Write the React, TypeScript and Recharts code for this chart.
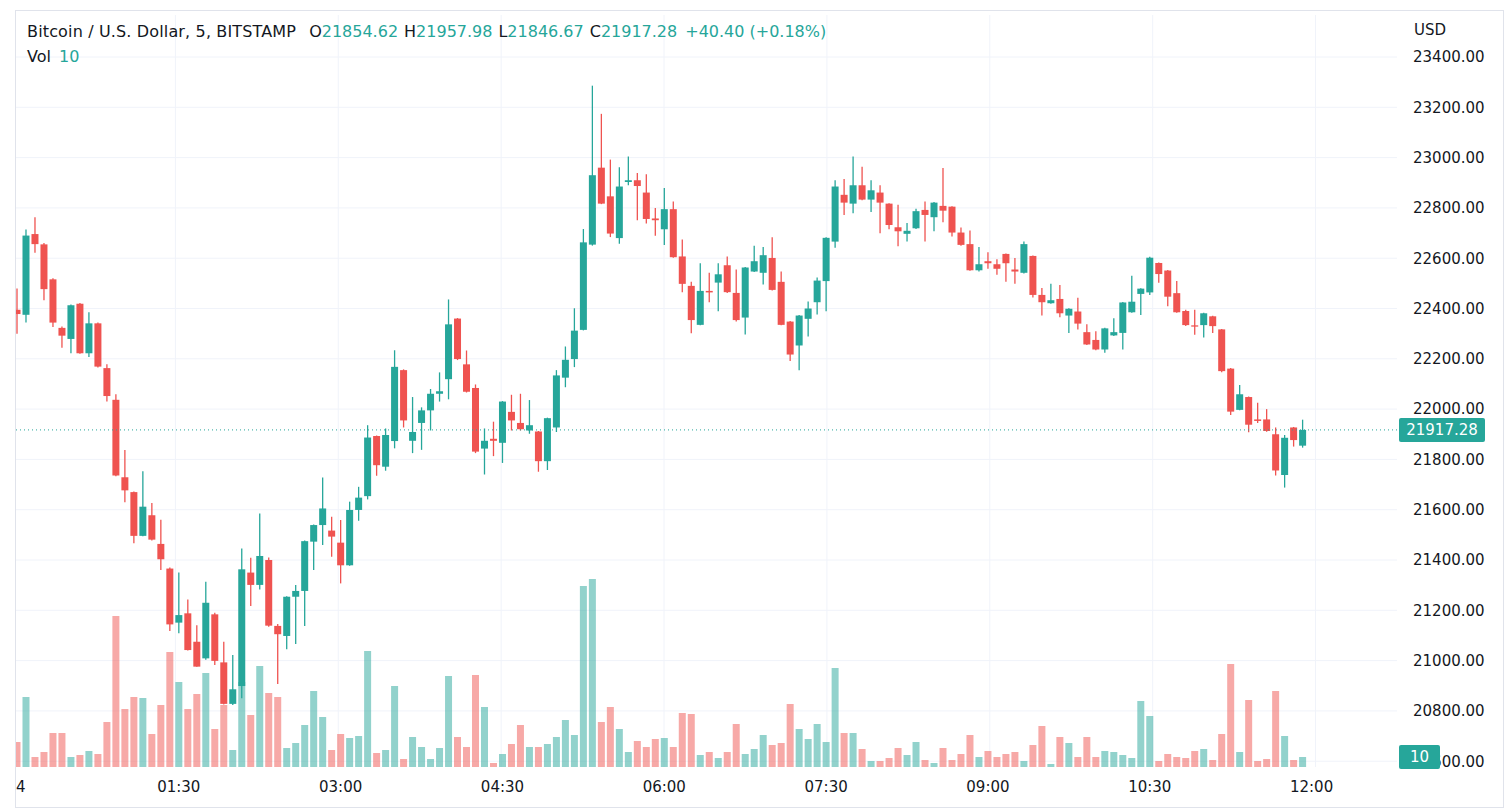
import React from "react";
import { Bar, Cell, ComposedChart, ReferenceLine, XAxis, YAxis } from "recharts";

// BTC/USD, 5 minute candles, 00:00 - 11:55
const OPEN = [
  22395, 22375, 22696, 22655, 22516, 22323, 22279, 22419, 22222, 22341,
  22163, 22037, 21729, 21670, 21496, 21578, 21464, 21366, 21151, 21188,
  21075, 21009, 21184, 20993, 20828, 20899, 21350, 21301, 21400, 21138,
  21098, 21254, 21277, 21473, 21539, 21517, 21469, 21379, 21599, 21654,
  21893, 21771, 21873, 22155, 21874, 21945, 21995, 22061, 22119, 22360,
  22178, 22084, 21843, 21882, 21866, 21989, 21945, 21915, 21911, 21793,
  21927, 22125, 22199, 22315, 22654, 22960, 22846, 22680, 22903, 22910,
  22861, 22758, 22715, 22795, 22607, 22490, 22335, 22470, 22503, 22572,
  22462, 22364, 22547, 22542, 22601, 22506, 22348, 22253, 22359, 22425,
  22509, 22666, 22852, 22817, 22890, 22833, 22861, 22817, 22723, 22697,
  22719, 22792, 22763, 22808, 22805, 22702, 22656, 22552, 22588, 22576,
  22617, 22555, 22542, 22609, 22454, 22421, 22438, 22372, 22388, 22306,
  22275, 22237, 22293, 22303, 22385, 22458, 22464, 22581, 22551, 22461,
  22390, 22333, 22334, 22369, 22317, 22161, 21997, 22048, 21959, 21959,
  21900, 21738, 21927, 21854.62,
];
const HIGH = [
  22480, 22714, 22763, 22660, 22520, 22328, 22416, 22422, 22385, 22344,
  22178, 22059, 21837, 21672, 21753, 21627, 21560, 21370, 21350, 21243,
  21141, 21314, 21190, 21075, 21022, 21446, 21409, 21585, 21410, 21146,
  21256, 21301, 21478, 21541, 21728, 21572, 21559, 21632, 21691, 21936,
  21895, 21923, 22234, 22158, 22048, 22007, 22080, 22146, 22436, 22362,
  22233, 22098, 21923, 21950, 22032, 22057, 22061, 22036, 21913, 21966,
  22155, 22249, 22401, 22716, 23286, 23174, 22992, 22962, 23004, 22939,
  22934, 22800, 22879, 22825, 22674, 22506, 22580, 22542, 22580, 22607,
  22555, 22565, 22650, 22645, 22683, 22547, 22350, 22374, 22428, 22523,
  22683, 22910, 22915, 23004, 22964, 22910, 22890, 22819, 22813, 22740,
  22797, 22825, 22823, 22959, 22807, 22722, 22710, 22645, 22624, 22596,
  22619, 22601, 22666, 22611, 22482, 22498, 22493, 22401, 22443, 22337,
  22310, 22323, 22361, 22426, 22530, 22481, 22606, 22583, 22553, 22509,
  22395, 22395, 22383, 22371, 22319, 22163, 22096, 22050, 22025, 22000,
  21927, 21897, 21929, 21957.98,
];
const LOW = [
  22300, 22344, 22622, 22433, 22326, 22244, 22222, 22220, 22207, 22165,
  22030, 21733, 21630, 21467, 21494, 21478, 21360, 21118, 21109, 21040,
  20976, 21003, 20983, 20826, 20824, 20850, 21217, 21283, 21135, 20907,
  21045, 21066, 21138, 21360, 21460, 21413, 21307, 21377, 21556, 21641,
  21735, 21755, 21844, 21927, 21825, 21838, 21915, 22030, 22039, 22195,
  22066, 21825, 21740, 21813, 21786, 21915, 21915, 21902, 21751, 21758,
  21909, 22087, 22167, 22313, 22650, 22815, 22684, 22657, 22890, 22751,
  22738, 22689, 22653, 22602, 22465, 22302, 22333, 22425, 22389, 22462,
  22348, 22297, 22545, 22495, 22472, 22333, 22191, 22155, 22289, 22376,
  22389, 22642, 22772, 22779, 22830, 22784, 22699, 22715, 22648, 22666,
  22716, 22666, 22707, 22743, 22686, 22650, 22550, 22547, 22558, 22534,
  22506, 22498, 22539, 22444, 22372, 22419, 22365, 22303, 22317, 22255,
  22234, 22224, 22291, 22237, 22383, 22374, 22454, 22502, 22409, 22383,
  22330, 22296, 22285, 22303, 22147, 21977, 21995, 21908, 21945, 21910,
  21736, 21688, 21851, 21846.67,
];
const CLOSE = [
  22378, 22690, 22656, 22477, 22344, 22292, 22413, 22222, 22341, 22169,
  22052, 21736, 21677, 21496, 21612, 21481, 21403, 21144, 21181, 21042,
  20976, 21230, 20999, 20828, 20886, 21363, 21301, 21416, 21139, 21105,
  21254, 21277, 21475, 21539, 21605, 21493, 21379, 21599, 21648, 21887,
  21777, 21897, 22168, 21955, 21909, 21995, 22061, 22071, 22337, 22199,
  22069, 21831, 21874, 21874, 22030, 21955, 21920, 21936, 21793, 21964,
  22134, 22196, 22312, 22663, 22930, 22817, 22698, 22885, 22910, 22887,
  22756, 22751, 22795, 22604, 22498, 22354, 22470, 22464, 22536, 22465,
  22354, 22563, 22588, 22612, 22474, 22335, 22217, 22372, 22400, 22511,
  22681, 22885, 22821, 22890, 22833, 22870, 22821, 22732, 22707, 22709,
  22787, 22772, 22821, 22789, 22702, 22653, 22552, 22576, 22580, 22558,
  22580, 22547, 22656, 22454, 22425, 22433, 22381, 22399, 22340, 22257,
  22237, 22321, 22306, 22424, 22427, 22479, 22602, 22537, 22447, 22385,
  22334, 22328, 22381, 22330, 22151, 21990, 22059, 21938, 21953, 21913,
  21756, 21886, 21876.88, 21917.28,
];
const VOLUME = [
  25, 70, 10, 15, 34, 34, 10, 12, 16, 13,
  45, 151, 58, 70, 69, 33, 62, 115, 85, 58,
  73, 94, 38, 62, 17, 85, 52, 101, 74, 70,
  19, 24, 42, 76, 50, 17, 33, 29, 31, 116,
  14, 17, 81, 8, 30, 20, 8, 19, 91, 30,
  20, 92, 60, 4, 13, 23, 42, 20, 20, 23,
  30, 47, 32, 181, 188, 45, 60, 38, 15, 26,
  20, 28, 29, 20, 54, 53, 12, 15, 9, 15,
  43, 13, 18, 32, 22, 24, 63, 38, 28, 43,
  25, 99, 34, 34, 18, 6, 6, 9, 19, 12,
  25, 7, 4, 19, 7, 13, 32, 10, 16, 10,
  13, 15, 6, 22, 41, 3, 30, 24, 10, 30,
  10, 16, 15, 12, 9, 66, 51, 6, 13, 10,
  9, 16, 18, 7, 33, 103, 15, 67, 6, 8,
  76, 31, 7, 10,
];

const TIME_TICKS = ["00:00", "01:30", "03:00", "04:30", "06:00", "07:30", "09:00", "10:30", "12:00"];
const TICK_LABELS = ["4", "01:30", "03:00", "04:30", "06:00", "07:30", "09:00", "10:30", "12:00"];
const PRICE_TICKS = [20600, 20800, 21000, 21200, 21400, 21600, 21800, 22000, 22200, 22400, 22600, 22800, 23000, 23200, 23400];
const EMPTY_SLOTS = 10; // room on the right of the last candle

const SYMBOL = "Bitcoin / U.S. Dollar, 5, BITSTAMP";
const W = 1506;
const H = 808;
const GREEN = "#26a69a";
const RED = "#ef5350";
const VOL_GREEN = "rgba(38,166,154,0.5)";
const VOL_RED = "rgba(239,83,80,0.5)";
const GRID = "#f0f3fa";
const TEXT = "#131722";
const FONT = "'DejaVu Sans', Roboto, sans-serif";
const PRICE_DOMAIN: [number, number] = [20577, 23567];
const VOL_DOMAIN: [number, number] = [0, 752];
const MARGIN_TAGS = { top: 15, right: 109, bottom: 41, left: 12.5 };

const pad = (n: number) => String(n).padStart(2, "0");
const slotTime = (i: number) => `${pad(Math.floor((i * 5) / 60))}:${pad((i * 5) % 60)}`;

const rows = Array.from({ length: OPEN.length + EMPTY_SLOTS }, (_, i) => {
  const real = i < OPEN.length;
  return {
    t: slotTime(i),
    o: real ? OPEN[i] : null,
    h: real ? HIGH[i] : null,
    l: real ? LOW[i] : null,
    c: real ? CLOSE[i] : null,
    range: real ? [LOW[i], HIGH[i]] : null,
    vol: real ? VOLUME[i] : null,
    up: real ? CLOSE[i] >= OPEN[i] : true,
  };
});

const last = OPEN.length - 1;
const change = CLOSE[last] - CLOSE[last - 1];
const changePct = (change / CLOSE[last - 1]) * 100;
const LEGEND = [
  ["O", OPEN[last].toFixed(2)],
  ["H", HIGH[last].toFixed(2)],
  ["L", LOW[last].toFixed(2)],
  ["C", CLOSE[last].toFixed(2)],
];

const renderCandle = (props: any) => {
  const { x, y, width, height, payload } = props;
  if (!payload || payload.o == null) return <g />;
  const { o, h, l, c } = payload;
  const top = Math.min(y, y + height);
  const bot = Math.max(y, y + height);
  const span = h - l || 1;
  const py = (p: number) => top + ((h - p) / span) * (bot - top);
  const color = c >= o ? GREEN : RED;
  const cx = x + width / 2;
  const bTop = py(Math.max(o, c));
  const bBot = py(Math.min(o, c));
  return (
    <g>
      <line x1={cx} x2={cx} y1={top} y2={bot} stroke={color} strokeWidth={1.3} />
      <rect x={x} y={bTop} width={width} height={Math.max(1.2, bBot - bTop)} fill={color} />
    </g>
  );
};

const TimeTick = (props: any) => {
  const { x, y, payload } = props;
  const idx = TIME_TICKS.indexOf(payload.value);
  const first = idx === 0;
  return (
    <text x={first ? x - 1 : x} y={y} dy="0.71em" textAnchor={first ? "start" : "middle"}
      fill={TEXT} fontSize={15} fontFamily={FONT}>
      {TICK_LABELS[idx] ?? payload.value}
    </text>
  );
};

const AxisTag = (props: any) => {
  const { viewBox, text, w } = props;
  if (!viewBox) return null;
  const left = viewBox.x + viewBox.width + 2;
  const cy = viewBox.y;
  return (
    <g>
      <rect x={left} y={cy - 12} width={w} height={24} rx={2} fill={GREEN} />
      <text x={left + w / 2} y={cy} dy="0.36em" textAnchor="middle" fill="#fff"
        fontSize={15} fontFamily={FONT}>
        {text}
      </text>
    </g>
  );
};

const Header = () => (
  <div style={{ position: "absolute", left: 27, top: 22, fontSize: 16, lineHeight: "20px", color: TEXT, whiteSpace: "nowrap", fontFamily: FONT }}>
    <div style={{ display: "flex" }}>
      <span style={{ letterSpacing: 0.15 }}>{SYMBOL}</span>
      {LEGEND.map(([k, v], i) => (
        <span key={k} style={{ marginLeft: i === 0 ? 13 : 6 }}>
          {k}<span style={{ color: GREEN }}>{v}</span>
        </span>
      ))}
      <span style={{ marginLeft: 8, color: GREEN }}>
        {`${change >= 0 ? "+" : ""}${change.toFixed(2)} (${change >= 0 ? "+" : ""}${changePct.toFixed(2)}%)`}
      </span>
    </div>
    <div style={{ marginTop: 5 }}>
      Vol <span style={{ color: GREEN, marginLeft: 3 }}>{VOLUME[last]}</span>
    </div>
  </div>
);

export default function App() {
  return (
    <div style={{ position: "absolute", left: 0, top: 0, width: W, height: H, background: "#fff", overflow: "hidden", fontFamily: FONT }}>
      {/* grid layer, kept behind the candles */}
      <div style={{ position: "absolute", left: 0, top: 0 }}>
        <ComposedChart width={W} height={H} data={rows} margin={MARGIN_TAGS}>
          <XAxis xAxisId="t" dataKey="t" hide />
          <YAxis yAxisId="price" type="number" domain={PRICE_DOMAIN} allowDataOverflow hide />
          {PRICE_TICKS.map((p) => (
            <ReferenceLine key={p} xAxisId="t" yAxisId="price" y={p} stroke={GRID} strokeWidth={1} />
          ))}
          {TIME_TICKS.slice(1).map((t) => (
            <ReferenceLine key={t} xAxisId="t" yAxisId="price" x={t} stroke={GRID} strokeWidth={1} />
          ))}
        </ComposedChart>
      </div>

      <div style={{ position: "absolute", left: 0, top: 0 }}>
        <ComposedChart width={W} height={H} data={rows} margin={{ top: 15, right: 0, bottom: 0, left: 12.5 }}>
          <XAxis xAxisId="t" dataKey="t" ticks={TIME_TICKS} interval={0} tick={<TimeTick />}
            tickLine={false} axisLine={false} height={41} tickMargin={8} />
          <XAxis xAxisId="v" dataKey="t" hide />
          <YAxis yAxisId="price" orientation="right" type="number" domain={PRICE_DOMAIN} allowDataOverflow
            ticks={PRICE_TICKS} interval={0} width={109} tickLine={false} axisLine={false} tickMargin={10}
            tick={{ fill: TEXT, fontSize: 15, fontFamily: FONT }} tickFormatter={(v: number) => v.toFixed(2)} />
          <YAxis yAxisId="vol" type="number" domain={VOL_DOMAIN} allowDataOverflow hide />
          <Bar xAxisId="v" yAxisId="vol" dataKey="vol" barSize={7} isAnimationActive={false}>
            {rows.map((r, i) => (
              <Cell key={i} fill={r.up ? VOL_GREEN : VOL_RED} />
            ))}
          </Bar>
          <Bar xAxisId="t" yAxisId="price" dataKey="range" barSize={7} shape={renderCandle} isAnimationActive={false} />
          <ReferenceLine xAxisId="t" yAxisId="price" y={CLOSE[last]} stroke={GREEN} strokeDasharray="1 3" />
        </ComposedChart>
      </div>

      {/* last price / last volume tags, drawn over the axis labels */}
      <div style={{ position: "absolute", left: 0, top: 0 }}>
        <ComposedChart width={W} height={H} data={rows} margin={MARGIN_TAGS}>
          <XAxis xAxisId="t" dataKey="t" hide />
          <YAxis yAxisId="price" type="number" domain={PRICE_DOMAIN} allowDataOverflow hide />
          <YAxis yAxisId="vol" type="number" domain={VOL_DOMAIN} allowDataOverflow hide />
          <ReferenceLine xAxisId="t" yAxisId="price" y={CLOSE[last]} stroke="none"
            label={<AxisTag text={CLOSE[last].toFixed(2)} w={86} />} />
          <ReferenceLine xAxisId="t" yAxisId="vol" y={VOLUME[last]} stroke="none"
            label={<AxisTag text={String(VOLUME[last])} w={41} />} />
        </ComposedChart>
      </div>

      <Header />
      <div style={{ position: "absolute", left: 1414, top: 21, fontSize: 15, color: TEXT }}>USD</div>
      {/* pane frame; the strip left of it hides the part of the first candle outside the pane */}
      <div style={{ position: "absolute", left: 0, top: 0, width: 15, height: H, background: "#fff" }} />
      <div style={{ position: "absolute", left: 15, top: 10, width: 1487, height: 796, border: "1px solid #e0e3eb", pointerEvents: "none" }} />
    </div>
  );
}
